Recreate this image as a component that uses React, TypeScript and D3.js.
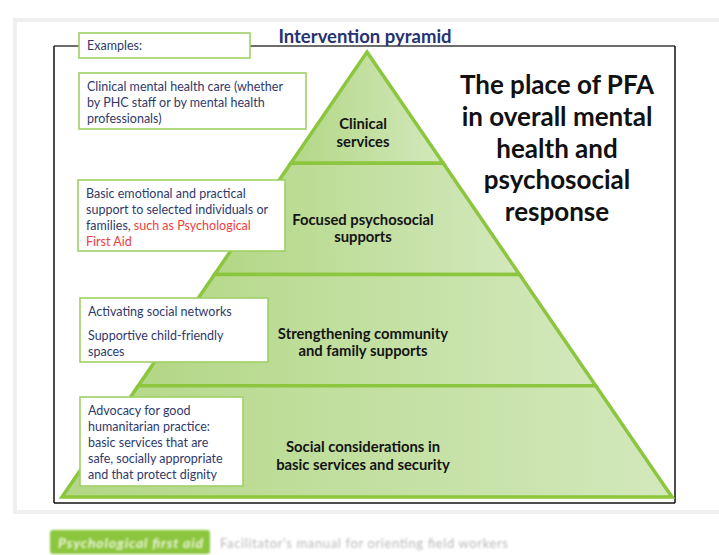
import * as d3 from "d3";

// Pyramid tiers, top to bottom
const tierLabels = [
  ["Clinical", "services"],
  ["Focused psychosocial", "supports"],
  ["Strengthening community", "and family supports"],
  ["Social considerations in", "basic services and security"],
];

// Example text boxes, one per tier (second segment is the red highlight)
const exampleLines = [
  [["Clinical mental health care (whether"], ["by PHC staff or by mental health"], ["professionals)"]],
  [
    ["Basic emotional and practical"],
    ["support to selected individuals or"],
    ["families, ", "such as Psychological"],
    ["", "First Aid"],
  ],
  [["Activating social networks"], [""], ["Supportive child-friendly"], ["spaces"]],
  [
    ["Advocacy for good"],
    ["humanitarian practice:"],
    ["basic services that are"],
    ["safe, socially appropriate"],
    ["and that protect dignity"],
  ],
];

const titleLines = ["The place of PFA", "in overall mental", "health and", "psychosocial", "response"];

const width = 719;
const height = 555;
const font = "Lato, 'Open Sans', sans-serif";
const navy = "#2f3a6b";
const green = "#8cc63e";

// box frames for the examples, in page pixels
const boxes = [
  { x: 79, y: 73, w: 227, h: 56 },
  { x: 78, y: 180, w: 207, h: 71 },
  { x: 80, y: 298, w: 188, h: 64 },
  { x: 80, y: 397, w: 163, h: 89 },
];

// label baseline distance above each tier's bottom edge
const labelLift = [34, 50, 47, 45];

const App = () => {
  const apexX = 367;
  const y = d3.scaleLinear().domain([0, tierLabels.length]).range([52, 497]);
  const half = d3.scaleLinear().domain([0, tierLabels.length]).range([0, 305]);

  const tierPath = (i: number) => {
    const p = d3.path();
    const t = y(i), b = y(i + 1);
    if (i === 0) {
      p.moveTo(apexX, t);
    } else {
      p.moveTo(apexX - half(i), t);
      p.lineTo(apexX + half(i), t);
    }
    p.lineTo(apexX + half(i + 1), b);
    p.lineTo(apexX - half(i + 1), b);
    p.closePath();
    return p.toString();
  };

  return (
    <svg width={width} height={height} style={{ position: "absolute", left: 0, top: 0, background: "#fff" }}>
      <defs>
        <linearGradient id="pg" x1="0" x2="1" y1="0" y2="0">
          <stop offset="0" stopColor="#b2d785" />
          <stop offset="1" stopColor="#d3e8bc" />
        </linearGradient>
      </defs>

      {/* faint page frame behind the slide */}
      <rect x={15} y={20} width={720} height={492} fill="none" stroke="#efefef" strokeWidth={4} />

      {/* outer frame */}
      <line x1={54} y1={46} x2={79} y2={46} stroke="#6d6d6d" strokeWidth={2} />
      <line x1={250} y1={46} x2={675} y2={46} stroke="#6d6d6d" strokeWidth={2} />
      <line x1={54} y1={46} x2={54} y2={503} stroke="#111" strokeWidth={1.5} />
      <line x1={675} y1={46} x2={675} y2={503} stroke="#111" strokeWidth={1.5} />
      <line x1={54} y1={503} x2={675} y2={503} stroke="#111" strokeWidth={1.5} />

      {/* pyramid */}
      {tierLabels.map((_, i) => (
        <path key={i} d={tierPath(i)} fill="url(#pg)" stroke={green} strokeWidth={3.5} strokeLinejoin="miter" />
      ))}
      {tierLabels.map((lines, i) => (
        <text key={"l" + i} textAnchor="middle" fontFamily={font} fontWeight={700} fontSize={14.8} fill="#141414">
          {lines.map((s, j) => (
            <tspan key={j} x={363} y={y(i + 1) - labelLift[i] + j * 17.5}>
              {s}
            </tspan>
          ))}
        </text>
      ))}

      {/* title */}
      <text x={365} y={43} textAnchor="middle" fontFamily={font} fontWeight={700} fontSize={18.5} fill="#263370">
        Intervention pyramid
      </text>

      {/* examples header */}
      <rect x={79} y={33} width={171} height={25} fill="#fff" stroke="#9fd066" strokeWidth={1.6} />
      <text x={87} y={50} fontFamily={font} fontSize={12.5} fill={navy}>Examples:</text>

      {boxes.map((b, i) => (
        <g key={"b" + i}>
          <rect x={b.x} y={b.y} width={b.w} height={b.h} fill="#fff" stroke="#9fd066" strokeWidth={1.6} />
          <text fontFamily={font} fontSize={12.5} fill={navy}>
            {exampleLines[i].map((segs, j) => (
              <tspan key={j} x={b.x + 8} y={b.y + 18 + j * 16 - (i === 2 && j >= 2 ? 8 : 0)}>
                {segs.map((s, k) => (
                  <tspan key={k} fill={k === 1 ? "#ef3e3e" : navy}>{s}</tspan>
                ))}
              </tspan>
            ))}
          </text>
        </g>
      ))}

      {/* right heading */}
      <text textAnchor="middle" fontFamily={font} fontWeight={700} fontSize={26} fill="#111">
        {titleLines.map((s, j) => (
          <tspan key={j} x={557} y={94 + j * 31.8}>{s}</tspan>
        ))}
      </text>

      {/* blurred footer of the manual page */}
      <g style={{ filter: "blur(1.3px)" }}>
        <rect x={50} y={530} width={160} height={24} rx={3} fill="#8cc63e" />
        <text x={58} y={548} fontFamily={font} fontStyle="italic" fontWeight={700} fontSize={14} fill="#eef6e2" textLength={145}>Psychological first aid</text>
        <text x={220} y={548} fontFamily={font} fontSize={13} fill="#b8b8b8" textLength={288}>Facilitator's manual for orienting field workers</text>
      </g>
    </svg>
  );
};

export default App;
